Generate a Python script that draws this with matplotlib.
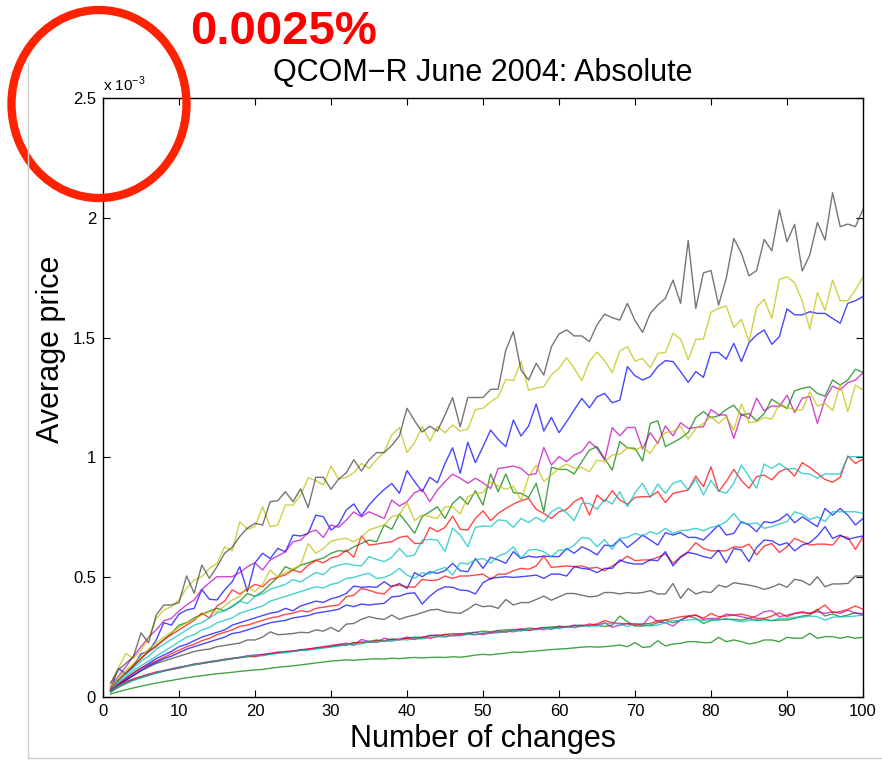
import matplotlib
matplotlib.use("Agg")
import matplotlib.pyplot as plt
from matplotlib.patches import Ellipse
from matplotlib.lines import Line2D
from matplotlib.ticker import FuncFormatter, MultipleLocator

plt.rcParams['font.family'] = ['Liberation Sans', 'DejaVu Sans']

# dados (unidades de 1e-3)
changes = list(range(1, 101))

b1 = [0.03, 0.12, 0.096, 0.13, 0.18, 0.19, 0.238, 0.31, 0.3, 0.346,
      0.363, 0.37, 0.449, 0.408, 0.405, 0.447, 0.481, 0.544, 0.44, 0.56,
      0.6, 0.578, 0.62, 0.606, 0.676, 0.672, 0.683, 0.759, 0.752, 0.697,
      0.72, 0.78, 0.806, 0.756, 0.801, 0.836, 0.866, 0.891, 0.85, 0.945,
      0.899, 0.857, 0.917, 0.894, 0.975, 1.04, 0.934, 1.063, 0.978, 1.045,
      1.114, 1.075, 1.045, 1.156, 1.089, 1.131, 1.223, 1.11, 1.167, 1.103,
      1.149, 1.198, 1.246, 1.207, 1.253, 1.267, 1.228, 1.239, 1.379, 1.341,
      1.323, 1.337, 1.379, 1.404, 1.4, 1.358, 1.313, 1.358, 1.334, 1.438,
      1.438, 1.41, 1.476, 1.4, 1.479, 1.511, 1.532, 1.472, 1.504, 1.62,
      1.595, 1.595, 1.608, 1.601, 1.601, 1.58, 1.56, 1.643, 1.654, 1.671]

g1 = [0.04, 0.07, 0.1, 0.13, 0.16, 0.19, 0.215, 0.238, 0.266, 0.3,
      0.31, 0.33, 0.345, 0.359, 0.37, 0.36, 0.377, 0.4, 0.432, 0.42,
      0.44, 0.47, 0.5, 0.544, 0.53, 0.55, 0.56, 0.571, 0.58, 0.6,
      0.611, 0.607, 0.627, 0.641, 0.655, 0.648, 0.718, 0.7, 0.764, 0.725,
      0.683, 0.753, 0.773, 0.794, 0.745, 0.808, 0.836, 0.804, 0.861, 0.801,
      0.931, 0.857, 0.931, 0.853, 0.85, 0.833, 0.892, 0.773, 0.959, 0.95,
      0.95, 0.931, 0.982, 1.03, 1.045, 0.996, 0.947, 1.066, 1.04, 1.038,
      0.985, 1.142, 1.153, 1.045, 1.062, 1.08, 1.104, 1.167, 1.191, 1.166,
      1.174, 1.2, 1.218, 1.176, 1.183, 1.153, 1.183, 1.243, 1.222, 1.204,
      1.278, 1.288, 1.295, 1.267, 1.256, 1.323, 1.302, 1.323, 1.368, 1.355]

r1 = [0.035, 0.07, 0.1, 0.13, 0.16, 0.19, 0.21, 0.24, 0.26, 0.28,
      0.3, 0.32, 0.35, 0.33, 0.38, 0.4, 0.447, 0.43, 0.45, 0.47,
      0.46, 0.49, 0.5, 0.51, 0.53, 0.52, 0.55, 0.57, 0.56, 0.58,
      0.588, 0.613, 0.583, 0.672, 0.634, 0.638, 0.644, 0.648, 0.666, 0.672,
      0.641, 0.641, 0.708, 0.69, 0.708, 0.755, 0.7, 0.697, 0.745, 0.777,
      0.736, 0.766, 0.787, 0.805, 0.819, 0.829, 0.783, 0.766, 0.745, 0.773,
      0.783, 0.815, 0.833, 0.759, 0.843, 0.815, 0.861, 0.822, 0.805, 0.833,
      0.836, 0.836, 0.857, 0.811, 0.85, 0.857, 0.864, 0.922, 0.878, 0.961,
      0.857, 0.899, 0.95, 0.903, 0.871, 0.92, 0.926, 0.906, 0.94, 0.954,
      0.922, 0.978, 0.958, 0.933, 0.908, 0.896, 0.917, 1.006, 0.975, 0.992]

c1 = [0.03, 0.065, 0.095, 0.12, 0.15, 0.17, 0.2, 0.22, 0.24, 0.26,
      0.28, 0.3, 0.31, 0.33, 0.35, 0.36, 0.38, 0.4, 0.39, 0.42,
      0.43, 0.45, 0.46, 0.47, 0.49, 0.48, 0.5, 0.52, 0.51, 0.54,
      0.55, 0.557, 0.55, 0.547, 0.586, 0.574, 0.565, 0.583, 0.62, 0.586,
      0.593, 0.655, 0.658, 0.655, 0.607, 0.704, 0.676, 0.627, 0.708, 0.714,
      0.711, 0.739, 0.736, 0.708, 0.745, 0.728, 0.75, 0.731, 0.773, 0.791,
      0.769, 0.736, 0.808, 0.808, 0.783, 0.825, 0.805, 0.857, 0.794, 0.853,
      0.892, 0.833, 0.889, 0.85, 0.892, 0.903, 0.864, 0.909, 0.843, 0.903,
      0.861, 0.85, 0.892, 0.968, 0.92, 0.871, 0.972, 0.954, 0.975, 0.951,
      0.954, 0.933, 0.931, 0.913, 0.931, 0.931, 0.931, 1.003, 1.003, 1.003]

m1 = [0.043, 0.085, 0.126, 0.17, 0.21, 0.25, 0.28, 0.318, 0.328, 0.359,
      0.384, 0.405, 0.449, 0.477, 0.502, 0.502, 0.502, 0.519, 0.544, 0.56,
      0.53, 0.572, 0.589, 0.606, 0.648, 0.655, 0.686, 0.697, 0.666, 0.718,
      0.708, 0.738, 0.773, 0.752, 0.773, 0.759, 0.745, 0.822, 0.797, 0.815,
      0.853, 0.867, 0.815, 0.864, 0.899, 0.93, 0.913, 0.892, 0.913, 0.894,
      0.87, 0.954, 0.958, 0.964, 0.954, 0.926, 0.933, 1.042, 0.968, 1.003,
      0.982, 1.01, 1.024, 1.066, 1.038, 0.989, 1.124, 1.09, 1.125, 1.125,
      1.035, 1.103, 1.058, 1.131, 1.09, 1.145, 1.121, 1.125, 1.128, 1.2,
      1.177, 1.177, 1.08, 1.181, 1.163, 1.247, 1.194, 1.215, 1.212, 1.26,
      1.187, 1.247, 1.254, 1.142, 1.243, 1.298, 1.282, 1.312, 1.323, 1.353]

y1 = [0.057, 0.12, 0.182, 0.161, 0.196, 0.245, 0.328, 0.363, 0.377, 0.405,
      0.454, 0.488, 0.502, 0.537, 0.558, 0.627, 0.61, 0.732, 0.7, 0.711,
      0.794, 0.711, 0.718, 0.801, 0.801, 0.843, 0.915, 0.903, 0.885, 0.964,
      0.908, 0.917, 0.935, 0.975, 0.954, 0.99, 1.024, 1.094, 1.124, 1.021,
      1.061, 1.13, 1.068, 1.13, 1.103, 1.135, 1.11, 1.118, 1.2, 1.205,
      1.232, 1.253, 1.326, 1.32, 1.40, 1.28, 1.29, 1.295, 1.344, 1.372,
      1.416, 1.372, 1.32, 1.40, 1.44, 1.404, 1.354, 1.444, 1.462, 1.402,
      1.413, 1.374, 1.434, 1.438, 1.518, 1.494, 1.407, 1.493, 1.494, 1.606,
      1.622, 1.632, 1.543, 1.576, 1.483, 1.626, 1.66, 1.58, 1.743, 1.754,
      1.729, 1.653, 1.535, 1.688, 1.613, 1.74, 1.654, 1.654, 1.699, 1.754]

k1 = [0.057, 0.113, 0.14, 0.168, 0.268, 0.226, 0.342, 0.384, 0.384, 0.394,
      0.505, 0.433, 0.551, 0.495, 0.544, 0.6, 0.625, 0.67, 0.705, 0.725,
      0.718, 0.815, 0.819, 0.857, 0.815, 0.869, 0.791, 0.917, 0.917, 0.867,
      0.91, 0.935, 0.99, 0.943, 0.99, 1.02, 1.02, 1.05, 1.09, 1.205,
      1.153, 1.106, 1.13, 1.11, 1.177, 1.25, 1.128, 1.25, 1.25, 1.25,
      1.284, 1.285, 1.448, 1.525, 1.365, 1.323, 1.393, 1.344, 1.462, 1.515,
      1.532, 1.507, 1.507, 1.483, 1.553, 1.598, 1.583, 1.573, 1.643, 1.571,
      1.522, 1.601, 1.636, 1.664, 1.74, 1.643, 1.905, 1.622, 1.77, 1.78,
      1.636, 1.747, 1.914, 1.852, 1.758, 1.78, 1.91, 1.862, 2.033, 1.9,
      1.973, 1.778, 1.845, 1.98, 1.907, 2.105, 1.963, 1.974, 1.963, 2.035]

b2 = [0.025, 0.05, 0.075, 0.1, 0.12, 0.14, 0.16, 0.175, 0.19, 0.21,
      0.22, 0.235, 0.25, 0.26, 0.27, 0.28, 0.3, 0.31, 0.32, 0.33,
      0.34, 0.35, 0.355, 0.37, 0.36, 0.38, 0.39, 0.4, 0.395, 0.41,
      0.418, 0.432, 0.463, 0.458, 0.46, 0.458, 0.481, 0.46, 0.474, 0.453,
      0.519, 0.502, 0.523, 0.516, 0.527, 0.558, 0.527, 0.523, 0.578, 0.537,
      0.583, 0.572, 0.558, 0.607, 0.578, 0.588, 0.583, 0.588, 0.586, 0.586,
      0.62, 0.6, 0.627, 0.613, 0.593, 0.634, 0.63, 0.658, 0.624, 0.648,
      0.676, 0.655, 0.634, 0.686, 0.676, 0.686, 0.666, 0.666, 0.655, 0.686,
      0.718, 0.676, 0.683, 0.732, 0.718, 0.69, 0.732, 0.727, 0.739, 0.764,
      0.727, 0.752, 0.732, 0.711, 0.787, 0.759, 0.787, 0.759, 0.718, 0.745]

g2 = [0.02, 0.04, 0.055, 0.07, 0.08, 0.09, 0.1, 0.108, 0.115, 0.122,
      0.128, 0.135, 0.14, 0.145, 0.15, 0.155, 0.16, 0.164, 0.168, 0.172,
      0.176, 0.18, 0.184, 0.188, 0.192, 0.195, 0.198, 0.202, 0.206, 0.21,
      0.218, 0.215, 0.228, 0.225, 0.232, 0.238, 0.235, 0.242, 0.24, 0.245,
      0.25, 0.248, 0.258, 0.255, 0.26, 0.265, 0.262, 0.268, 0.27, 0.275,
      0.272, 0.278, 0.28, 0.282, 0.28, 0.288, 0.285, 0.29, 0.292, 0.295,
      0.292, 0.298, 0.3, 0.296, 0.3, 0.294, 0.3, 0.338, 0.314, 0.296,
      0.296, 0.3, 0.31, 0.321, 0.31, 0.321, 0.338, 0.328, 0.307, 0.319,
      0.324, 0.324, 0.324, 0.321, 0.328, 0.319, 0.324, 0.319, 0.321, 0.321,
      0.328, 0.338, 0.342, 0.366, 0.338, 0.347, 0.335, 0.342, 0.352, 0.342]

r2 = [0.03, 0.055, 0.08, 0.1, 0.12, 0.135, 0.15, 0.165, 0.18, 0.195,
      0.21, 0.22, 0.235, 0.245, 0.26, 0.27, 0.28, 0.295, 0.3, 0.31,
      0.32, 0.33, 0.335, 0.345, 0.35, 0.36, 0.355, 0.37, 0.375, 0.38,
      0.384, 0.418, 0.425, 0.453, 0.446, 0.435, 0.43, 0.463, 0.467, 0.46,
      0.458, 0.491, 0.486, 0.488, 0.505, 0.495, 0.505, 0.505, 0.509, 0.513,
      0.491, 0.513, 0.513, 0.527, 0.537, 0.533, 0.547, 0.588, 0.541, 0.544,
      0.547, 0.544, 0.547, 0.537, 0.541, 0.527, 0.547, 0.565, 0.588, 0.569,
      0.572, 0.572, 0.583, 0.597, 0.558, 0.586, 0.607, 0.644, 0.62, 0.61,
      0.61, 0.61, 0.627, 0.624, 0.638, 0.593, 0.63, 0.641, 0.603, 0.627,
      0.662, 0.648, 0.634, 0.638, 0.638, 0.634, 0.672, 0.666, 0.616, 0.669]

c2 = [0.03, 0.06, 0.085, 0.11, 0.13, 0.15, 0.17, 0.19, 0.21, 0.23,
      0.25, 0.26, 0.28, 0.29, 0.31, 0.32, 0.33, 0.35, 0.36, 0.37,
      0.38, 0.4, 0.41, 0.42, 0.43, 0.44, 0.45, 0.46, 0.455, 0.47,
      0.477, 0.495, 0.499, 0.509, 0.516, 0.495, 0.499, 0.513, 0.537, 0.509,
      0.495, 0.519, 0.513, 0.53, 0.541, 0.509, 0.56, 0.555, 0.572, 0.578,
      0.558, 0.588, 0.6, 0.627, 0.578, 0.613, 0.616, 0.606, 0.586, 0.613,
      0.613, 0.634, 0.666, 0.662, 0.627, 0.657, 0.616, 0.662, 0.666, 0.683,
      0.672, 0.69, 0.68, 0.704, 0.683, 0.694, 0.697, 0.704, 0.694, 0.708,
      0.714, 0.732, 0.766, 0.727, 0.722, 0.727, 0.704, 0.711, 0.722, 0.732,
      0.773, 0.763, 0.741, 0.752, 0.732, 0.773, 0.773, 0.773, 0.773, 0.766]

m2 = [0.025, 0.045, 0.06, 0.075, 0.085, 0.095, 0.105, 0.11, 0.118, 0.125,
      0.13, 0.138, 0.142, 0.148, 0.152, 0.158, 0.162, 0.165, 0.172, 0.175,
      0.178, 0.182, 0.188, 0.185, 0.192, 0.198, 0.2, 0.205, 0.21, 0.215,
      0.22, 0.225, 0.215, 0.24, 0.232, 0.228, 0.245, 0.238, 0.242, 0.25,
      0.245, 0.248, 0.255, 0.26, 0.252, 0.258, 0.265, 0.262, 0.27, 0.26,
      0.268, 0.275, 0.27, 0.28, 0.285, 0.278, 0.285, 0.29, 0.282, 0.295,
      0.292, 0.3, 0.295, 0.305, 0.3, 0.31, 0.291, 0.3, 0.307, 0.305,
      0.3, 0.338, 0.314, 0.31, 0.296, 0.321, 0.335, 0.342, 0.324, 0.328,
      0.328, 0.346, 0.342, 0.335, 0.328, 0.338, 0.356, 0.36, 0.335, 0.342,
      0.349, 0.356, 0.349, 0.356, 0.349, 0.356, 0.349, 0.363, 0.349, 0.349]

y2 = [0.04, 0.08, 0.11, 0.14, 0.17, 0.2, 0.225, 0.25, 0.27, 0.29,
      0.31, 0.325, 0.342, 0.356, 0.356, 0.38, 0.405, 0.42, 0.46, 0.44,
      0.47, 0.53, 0.5, 0.52, 0.535, 0.55, 0.64, 0.6, 0.62, 0.65,
      0.658, 0.662, 0.648, 0.666, 0.697, 0.708, 0.718, 0.753, 0.76, 0.811,
      0.736, 0.76, 0.753, 0.745, 0.794, 0.794, 0.764, 0.836, 0.85, 0.853,
      0.899, 0.88, 0.867, 0.88, 0.82, 0.92, 0.968, 0.899, 0.927, 0.954,
      0.972, 0.954, 0.958, 0.94, 0.989, 0.982, 1.01, 1.014, 1.04, 1.031,
      1.045, 1.017, 1.066, 1.104, 1.108, 1.131, 1.076, 1.121, 1.142, 1.17,
      1.142, 1.17, 1.114, 1.223, 1.145, 1.149, 1.167, 1.159, 1.223, 1.209,
      1.198, 1.198, 1.274, 1.214, 1.226, 1.195, 1.305, 1.191, 1.302, 1.281]

k2 = [0.025, 0.05, 0.07, 0.09, 0.11, 0.125, 0.14, 0.15, 0.16, 0.17,
      0.18, 0.19, 0.196, 0.2, 0.21, 0.215, 0.22, 0.225, 0.238, 0.238,
      0.25, 0.272, 0.26, 0.262, 0.265, 0.27, 0.268, 0.28, 0.275, 0.29,
      0.273, 0.304, 0.307, 0.324, 0.335, 0.328, 0.324, 0.342, 0.324, 0.335,
      0.342, 0.352, 0.363, 0.366, 0.356, 0.352, 0.349, 0.366, 0.388, 0.377,
      0.38, 0.37, 0.407, 0.384, 0.394, 0.394, 0.407, 0.421, 0.404, 0.418,
      0.432, 0.432, 0.425, 0.418, 0.421, 0.436, 0.436, 0.43, 0.436, 0.433,
      0.436, 0.444, 0.43, 0.43, 0.474, 0.412, 0.453, 0.43, 0.44, 0.436,
      0.467, 0.458, 0.477, 0.472, 0.467, 0.46, 0.449, 0.458, 0.472, 0.458,
      0.491, 0.485, 0.467, 0.502, 0.46, 0.472, 0.472, 0.474, 0.505, 0.505]

b3 = [0.025, 0.05, 0.07, 0.09, 0.11, 0.13, 0.145, 0.16, 0.17, 0.185,
      0.2, 0.21, 0.22, 0.23, 0.24, 0.25, 0.265, 0.27, 0.28, 0.29,
      0.3, 0.31, 0.315, 0.32, 0.33, 0.335, 0.34, 0.35, 0.355, 0.36,
      0.366, 0.384, 0.377, 0.388, 0.384, 0.388, 0.391, 0.418, 0.421, 0.432,
      0.435, 0.388, 0.421, 0.446, 0.46, 0.458, 0.446, 0.444, 0.43, 0.477,
      0.495, 0.499, 0.502, 0.499, 0.502, 0.505, 0.509, 0.495, 0.513, 0.513,
      0.505, 0.544, 0.537, 0.533, 0.519, 0.537, 0.537, 0.572, 0.56, 0.555,
      0.555, 0.572, 0.569, 0.607, 0.547, 0.583, 0.603, 0.597, 0.586, 0.579,
      0.613, 0.56, 0.62, 0.613, 0.565, 0.624, 0.655, 0.652, 0.634, 0.644,
      0.61, 0.634, 0.644, 0.672, 0.711, 0.662, 0.676, 0.658, 0.666, 0.672]

g3 = [0.012, 0.022, 0.03, 0.038, 0.045, 0.052, 0.058, 0.064, 0.069, 0.075,
      0.08, 0.085, 0.089, 0.093, 0.097, 0.1, 0.103, 0.107, 0.11, 0.113,
      0.115, 0.12, 0.124, 0.127, 0.13, 0.134, 0.138, 0.142, 0.146, 0.15,
      0.152, 0.155, 0.153, 0.156, 0.158, 0.16, 0.158, 0.162, 0.16, 0.163,
      0.165, 0.163, 0.165, 0.166, 0.165, 0.168, 0.166, 0.17, 0.175, 0.178,
      0.176, 0.18, 0.183, 0.188, 0.186, 0.19, 0.192, 0.195, 0.198, 0.2,
      0.202, 0.205, 0.208, 0.21, 0.208, 0.21, 0.213, 0.217, 0.21, 0.227,
      0.207, 0.21, 0.235, 0.213, 0.221, 0.224, 0.231, 0.231, 0.227, 0.227,
      0.249, 0.231, 0.238, 0.231, 0.221, 0.227, 0.238, 0.238, 0.231, 0.249,
      0.245, 0.245, 0.266, 0.245, 0.252, 0.252, 0.245, 0.252, 0.245, 0.249]

r3 = [0.03, 0.05, 0.065, 0.075, 0.085, 0.095, 0.1, 0.11, 0.115, 0.12,
      0.13, 0.135, 0.14, 0.145, 0.15, 0.155, 0.16, 0.165, 0.17, 0.168,
      0.175, 0.18, 0.185, 0.19, 0.192, 0.195, 0.2, 0.205, 0.208, 0.212,
      0.215, 0.22, 0.225, 0.23, 0.228, 0.235, 0.232, 0.24, 0.238, 0.245,
      0.24, 0.25, 0.245, 0.252, 0.262, 0.255, 0.258, 0.262, 0.26, 0.265,
      0.27, 0.268, 0.275, 0.272, 0.28, 0.278, 0.285, 0.282, 0.29, 0.288,
      0.295, 0.29, 0.298, 0.3, 0.305, 0.319, 0.31, 0.307, 0.305, 0.3,
      0.305, 0.307, 0.319, 0.321, 0.328, 0.335, 0.338, 0.342, 0.328, 0.349,
      0.335, 0.338, 0.342, 0.346, 0.338, 0.328, 0.328, 0.338, 0.352, 0.335,
      0.349, 0.352, 0.349, 0.363, 0.384, 0.352, 0.356, 0.366, 0.38, 0.366]

c3 = [0.025, 0.045, 0.058, 0.07, 0.082, 0.092, 0.1, 0.108, 0.116, 0.122,
      0.13, 0.136, 0.14, 0.146, 0.152, 0.156, 0.16, 0.166, 0.17, 0.174,
      0.172, 0.178, 0.182, 0.186, 0.19, 0.194, 0.196, 0.2, 0.205, 0.208,
      0.212, 0.22, 0.218, 0.222, 0.23, 0.228, 0.235, 0.232, 0.24, 0.238,
      0.244, 0.242, 0.25, 0.252, 0.25, 0.258, 0.255, 0.262, 0.26, 0.268,
      0.265, 0.27, 0.272, 0.278, 0.275, 0.282, 0.28, 0.285, 0.288, 0.286,
      0.292, 0.29, 0.295, 0.298, 0.296, 0.307, 0.307, 0.305, 0.294, 0.307,
      0.305, 0.296, 0.3, 0.31, 0.319, 0.319, 0.321, 0.324, 0.319, 0.324,
      0.321, 0.328, 0.319, 0.314, 0.319, 0.324, 0.321, 0.319, 0.328, 0.328,
      0.333, 0.333, 0.338, 0.335, 0.321, 0.333, 0.335, 0.335, 0.338, 0.342]

series = [b1, g1, r1, c1, m1, y1, k1, b2, g2, r2, c2, m2, y2, k2, b3, g3, r3, c3]

# ordem de cores padrão do MATLAB
matlab_colors = ['#0000ff', '#008000', '#ff0000', '#00bfbf',
                 '#bf00bf', '#bfbf00', '#404040']

fig = plt.figure(figsize=(8.82, 7.61), dpi=100)
ax = fig.add_axes([103 / 882, 64 / 761, 760 / 882, 599 / 761])

for i, s in enumerate(series):
    ax.plot(changes, [v * 1e-3 for v in s], color=matlab_colors[i % 7],
            lw=1.0, alpha=0.72)

ax.set_xlim(0, 100)
ax.set_ylim(0, 2.5e-3)
ax.xaxis.set_major_locator(MultipleLocator(10))
ax.yaxis.set_major_locator(MultipleLocator(0.5e-3))
ax.yaxis.set_major_formatter(FuncFormatter(lambda v, _: f"{v * 1e3:g}"))
ax.tick_params(direction='in', top=True, right=True, length=5, width=0.8,
               labelsize=12, pad=5)
for sp in ax.spines.values():
    sp.set_linewidth(1.0)

ax.text(0, 1.006, r'x 10$^{\mathregular{-3}}$', transform=ax.transAxes,
        fontsize=11, ha='left', va='bottom')

ax.set_title('QCOM\u2212R June 2004: Absolute', fontsize=22, pad=12)
ax.set_xlabel('Number of changes', fontsize=22)
ax.set_ylabel('Average price', fontsize=22)
ax.xaxis.set_label_coords(0.5, -0.045)
ax.yaxis.set_label_coords(-0.049, 0.581)

# anotações vermelhas do slide
fig.text(190 / 882, 1 - 44 / 761, '0.0025%', color='#ff0000', fontsize=34,
         fontweight='bold', ha='left', va='baseline')
fig.add_artist(Ellipse((99 / 882, 1 - 104 / 761), 175 / 882, 188 / 761,
                       transform=fig.transFigure, fill=False,
                       edgecolor='#ff2200', lw=6))

# bordas cinza do slide
fig.add_artist(Line2D([28 / 882, 28 / 882], [1 - 63 / 761, 1 - 758 / 761],
                      transform=fig.transFigure, color='#cccccc', lw=1))
fig.add_artist(Line2D([28 / 882, 1], [1 - 758 / 761, 1 - 758 / 761],
                      transform=fig.transFigure, color='#cccccc', lw=1))

fig.savefig('out.png', dpi=100)
